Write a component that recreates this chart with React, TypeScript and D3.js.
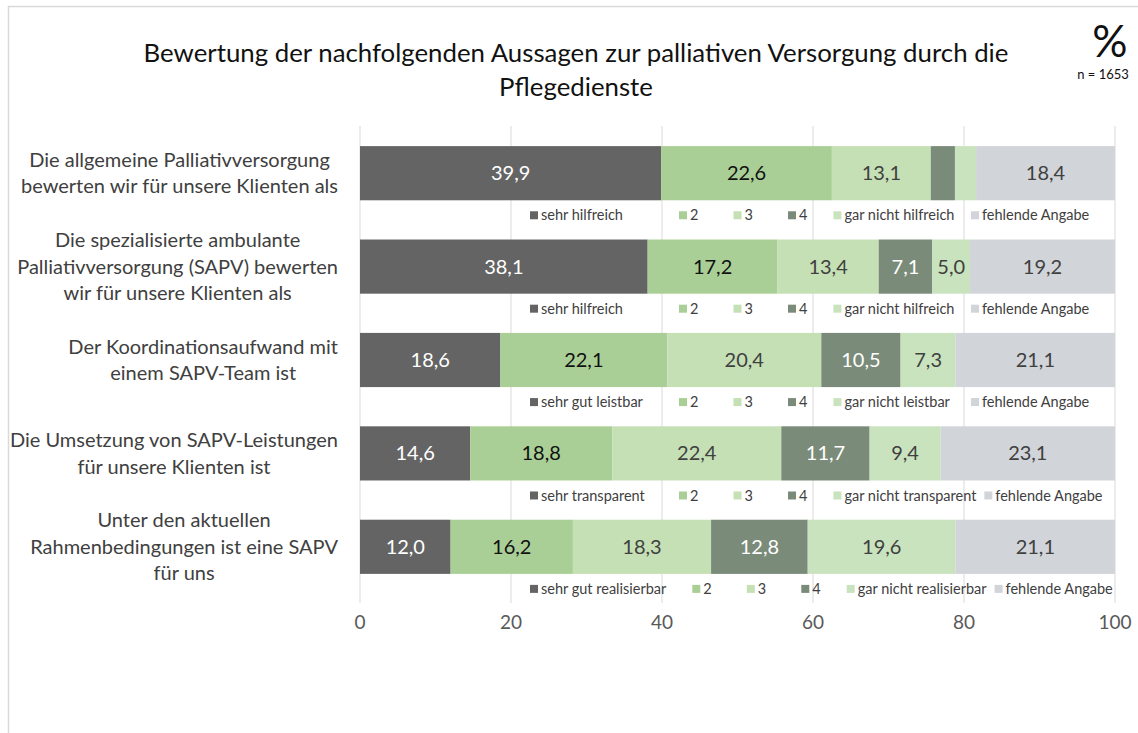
import { useEffect, useRef } from "react"
import * as d3 from "d3"

// Aussagen (Zeilenumbrüche wie im Original)
const categories = [
  ["Die allgemeine Palliativversorgung", "bewerten wir für unsere Klienten als"],
  ["Die spezialisierte ambulante", "Palliativversorgung (SAPV) bewerten", "wir für unsere Klienten als"],
  ["Der Koordinationsaufwand mit", "einem SAPV-Team ist"],
  ["Die Umsetzung von SAPV-Leistungen", "für unsere Klienten ist"],
  ["Unter den aktuellen", "Rahmenbedingungen ist eine SAPV", "für uns"],
]

const levels = ["best", "2", "3", "4", "worst", "missing"]

// Anteile in % je Aussage, Reihenfolge wie levels
const values = [
  [39.9, 22.6, 13.1, 3.2, 2.8, 18.4],
  [38.1, 17.2, 13.4, 7.1, 5.0, 19.2],
  [18.6, 22.1, 20.4, 10.5, 7.3, 21.1],
  [14.6, 18.8, 22.4, 11.7, 9.4, 23.1],
  [12.0, 16.2, 18.3, 12.8, 19.6, 21.1],
]

const bestLabels = ["sehr hilfreich", "sehr hilfreich", "sehr gut leistbar", "sehr transparent", "sehr gut realisierbar"]
const worstLabels = ["gar nicht hilfreich", "gar nicht hilfreich", "gar nicht leistbar", "gar nicht transparent", "gar nicht realisierbar"]
const missingLabel = "fehlende Angabe"

const ticks = [0, 20, 40, 60, 80, 100]

const colors = ["#646464", "#a9cf96", "#c6e0b6", "#7b8b79", "#cae3bf", "#d1d4d9"]
const valueColors = ["#ffffff", "#111111", "#404040", "#ffffff", "#404040", "#404040"]

const title = ["Bewertung der nachfolgenden Aussagen zur palliativen Versorgung durch die", "Pflegedienste"]

export default function App() {
  const ref = useRef<SVGSVGElement>(null)

  useEffect(() => {
    document.body.style.margin = "0"
    const svg = d3.select(ref.current!)
    svg.selectAll("*").remove()
    const W = 1138, H = 733
    const font = "Lato, 'DejaVu Sans', sans-serif"

    svg.append("rect")
      .attr("x", 8.5).attr("y", 6.5).attr("width", W).attr("height", H)
      .attr("fill", "#fff").attr("stroke", "#d9d9d9").attr("stroke-width", 1.5)

    const x = d3.scaleLinear().domain([0, 100]).range([360, 1115])
    const y = d3.scaleBand<number>()
      .domain(d3.range(categories.length))
      .range([126.5, 593.5])
      .paddingInner(0.42).paddingOuter(0.21)

    // Titel
    svg.append("g").selectAll("text").data(title).join("text")
      .attr("x", 576).attr("y", (_, i) => 53 + i * 34).attr("dy", "0.35em")
      .attr("text-anchor", "middle").attr("font-family", font).attr("font-size", 25.8)
      .attr("fill", "#111").text(d => d)

    svg.append("text").attr("x", 1110).attr("y", 57).attr("text-anchor", "middle")
      .attr("font-family", font).attr("font-size", 44).attr("fill", "#111").text("%")
    svg.append("text").attr("x", 1103).attr("y", 79).attr("text-anchor", "middle")
      .attr("font-family", font).attr("font-size", 13).attr("fill", "#111").text("n = 1653")

    // Gitter
    svg.append("g").selectAll("line").data(ticks).join("line")
      .attr("x1", d => x(d)).attr("x2", d => x(d))
      .attr("y1", 126).attr("y2", 603)
      .attr("stroke", "#d9d9d9").attr("stroke-width", 1)

    svg.append("g").selectAll("text").data(ticks).join("text")
      .attr("x", d => x(d)).attr("y", 622).attr("dy", "0.35em")
      .attr("text-anchor", "middle").attr("font-family", font).attr("font-size", 19)
      .attr("fill", "#595959").text(d => d)

    // Balken
    const rowsData = values.map(v => Object.fromEntries(levels.map((k, j) => [k, v[j]])))
    const series = d3.stack<Record<string, number>>().keys(levels)(rowsData)
    const fmt = (v: number) => d3.format(".1f")(v).replace(".", ",")

    series.forEach((s, j) => {
      const g = svg.append("g")
      g.selectAll("rect").data(s).join("rect")
        .attr("x", d => x(d[0])).attr("width", d => x(d[1]) - x(d[0]))
        .attr("y", (_, i) => y(i)!).attr("height", y.bandwidth())
        .attr("fill", colors[j])
      g.selectAll("text").data(s.filter(d => d[1] - d[0] >= 4)).join("text")
        .attr("x", d => x((d[0] + d[1]) / 2))
        .attr("y", d => y(rowsData.indexOf(d.data))! + y.bandwidth() / 2)
        .attr("dy", "0.35em").attr("text-anchor", "middle")
        .attr("font-family", font).attr("font-size", 20).attr("fill", valueColors[j])
        .text(d => fmt(d[1] - d[0]))
    })

    // Kategorienbeschriftung: Block rechtsbündig, Zeilen zentriert
    const lineH = 26.5
    categories.forEach((lines, i) => {
      const g = svg.append("g")
      const cy = y(i)! + y.bandwidth() / 2
      const texts = g.selectAll("text").data(lines).join("text")
        .attr("y", (_, k) => cy + (k - (lines.length - 1) / 2) * lineH)
        .attr("dy", "0.35em").attr("text-anchor", "middle")
        .attr("font-family", font).attr("font-size", 20).attr("fill", "#404040")
        .text(d => d)
      let maxW = 0
      texts.each(function () { maxW = Math.max(maxW, (this as SVGTextElement).getComputedTextLength()) })
      texts.attr("x", 338 - maxW / 2)
    })

    // Legenden unter jedem Balken
    categories.forEach((_, i) => {
      const items = [bestLabels[i], "2", "3", "4", worstLabels[i], missingLabel]
      const slot = [x(20) + 19, x(40) + 17, 0, 0, x(60) + 17, x(80) + 7]
      const ly = y(i)! + y.bandwidth() + 15
      const g = svg.append("g")
      let prevX = 0, prevEnd = -Infinity
      items.forEach((label, j) => {
        let px: number
        if (j === 2 || j === 3) px = prevX + 54.5
        else px = Math.max(slot[j], prevEnd + (j === 5 ? 8 : 26))
        const mark = g.append("rect").attr("y", ly - 4).attr("width", 8).attr("height", 8)
          .attr("fill", colors[j])
        const t = g.append("text").attr("y", ly).attr("dy", "0.35em")
          .attr("font-family", font).attr("font-size", 14.5).attr("fill", "#404040").text(label)
        const tw = (t.node() as SVGTextElement).getComputedTextLength()
        if (j === 5) px = Math.min(px, x(100) + 2 - 11 - tw)
        mark.attr("x", px)
        t.attr("x", px + 11)
        prevX = px
        prevEnd = px + 11 + tw
      })
    })
  }, [])

  return <svg ref={ref} width={1138} height={733} style={{ display: "block", background: "#fff" }} />
}
